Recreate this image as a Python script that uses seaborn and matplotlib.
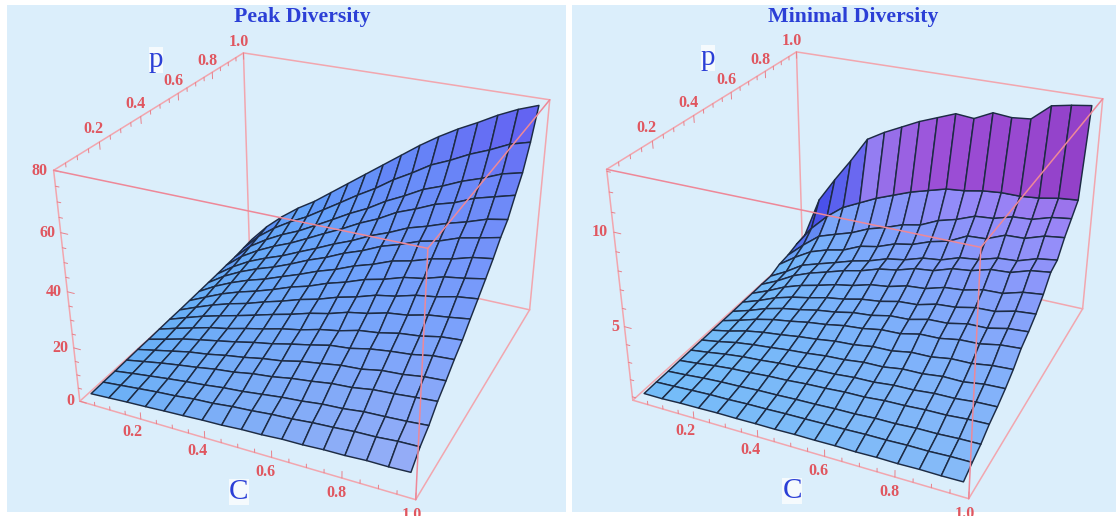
import numpy as np
import matplotlib
matplotlib.use('Agg')
import matplotlib.pyplot as plt
from matplotlib.colors import to_rgb
from matplotlib.patches import Rectangle
from mpl_toolkits.mplot3d import proj3d
import seaborn as sns

# grid of the two surfaces
c_values = [0.01, 0.07, 0.13, 0.19, 0.25, 0.31, 0.37, 0.43, 0.49, 0.55, 0.61, 0.67, 0.73, 0.79, 0.85, 0.91, 0.97]
p_values = [0.04, 0.10, 0.16, 0.22, 0.28, 0.34, 0.40, 0.46, 0.52, 0.58, 0.64, 0.70, 0.76, 0.82, 0.88, 0.94, 1.00]

# one row per p value
peak_diversity = [
    [0.3, 0.7, 1.1, 1.4, 1.8, 2.1, 2.5, 2.7, 3.2, 3.4, 3.9, 4.0, 4.4, 4.5, 4.9, 4.9, 5.2],
    [0.5, 1.2, 1.9, 2.6, 3.1, 3.9, 4.3, 5.1, 5.6, 6.3, 6.7, 7.4, 7.8, 8.4, 8.6, 9.2, 9.4],
    [0.6, 1.6, 2.5, 3.4, 4.2, 4.9, 5.8, 6.4, 7.3, 8.2, 8.8, 9.7, 10.1, 11.0, 11.3, 11.7, 12.3],
    [0.8, 2.1, 3.4, 4.5, 5.5, 6.7, 7.5, 8.8, 9.6, 10.9, 11.8, 12.9, 13.4, 14.6, 15.1, 15.8, 16.4],
    [1.0, 2.5, 4.0, 5.5, 6.5, 7.9, 9.0, 10.4, 11.4, 13.1, 14.2, 15.4, 15.9, 17.3, 17.8, 18.9, 19.4],
    [1.1, 2.9, 4.8, 6.3, 7.7, 9.1, 10.7, 12.0, 13.7, 15.2, 16.9, 17.6, 19.2, 20.2, 20.9, 22.3, 22.8],
    [1.3, 3.4, 5.3, 7.2, 8.6, 10.4, 12.0, 13.8, 15.2, 17.1, 18.4, 20.3, 21.2, 22.8, 23.6, 25.1, 25.7],
    [1.5, 3.9, 6.2, 8.1, 9.9, 11.8, 13.8, 15.6, 17.7, 19.3, 21.5, 22.8, 24.7, 25.6, 27.4, 28.3, 29.4],
    [1.6, 4.4, 7.0, 9.2, 11.0, 13.3, 15.3, 17.6, 19.4, 21.8, 23.6, 25.9, 27.2, 29.2, 30.3, 32.0, 32.9],
    [1.8, 4.9, 7.9, 10.3, 12.3, 14.6, 17.2, 19.2, 21.9, 24.0, 26.6, 28.3, 30.6, 31.8, 34.0, 35.1, 36.5],
    [2.0, 5.8, 8.9, 11.5, 13.6, 16.2, 18.7, 21.5, 23.8, 26.7, 28.9, 31.7, 33.3, 35.6, 37.1, 39.2, 40.3],
    [2.2, 6.5, 9.9, 12.7, 15.0, 17.8, 20.9, 23.5, 26.7, 29.2, 32.4, 34.6, 37.3, 38.9, 41.5, 43.0, 44.6],
    [2.4, 7.0, 10.8, 13.7, 16.2, 19.3, 22.3, 25.5, 28.3, 31.7, 34.4, 37.6, 39.7, 42.2, 44.2, 46.6, 47.9],
    [2.7, 8.0, 12.0, 15.3, 18.1, 21.5, 25.0, 28.3, 32.0, 35.1, 39.0, 41.7, 44.8, 46.8, 49.8, 51.7, 53.6],
    [2.9, 9.0, 13.3, 16.9, 19.9, 23.6, 27.4, 31.3, 34.7, 38.9, 42.3, 46.1, 48.7, 51.8, 54.2, 57.1, 58.8],
    [3.4, 10.0, 15.0, 19.1, 22.6, 26.9, 31.2, 35.6, 39.6, 44.3, 48.2, 52.5, 55.5, 59.0, 61.8, 65.1, 67.0],
    [3.9, 11.0, 16.8, 21.8, 26.0, 31.0, 36.0, 41.0, 46.0, 51.0, 56.0, 60.5, 64.5, 68.0, 71.8, 75.0, 77.5],
]
minimal_diversity = [
    [0.80, 0.80, 0.85, 0.87, 0.90, 0.90, 0.92, 0.92, 0.95, 0.95, 0.97, 0.96, 0.99, 0.98, 1.01, 1.00, 1.02],
    [0.82, 0.87, 0.93, 0.98, 1.00, 1.05, 1.07, 1.11, 1.13, 1.16, 1.18, 1.22, 1.23, 1.27, 1.27, 1.32, 1.33],
    [0.82, 0.90, 1.00, 1.07, 1.11, 1.18, 1.21, 1.26, 1.29, 1.34, 1.36, 1.43, 1.44, 1.51, 1.52, 1.58, 1.60],
    [0.84, 0.96, 1.10, 1.21, 1.27, 1.36, 1.41, 1.50, 1.55, 1.63, 1.65, 1.75, 1.78, 1.85, 1.87, 1.96, 2.00],
    [0.85, 1.00, 1.17, 1.30, 1.38, 1.49, 1.56, 1.67, 1.72, 1.82, 1.85, 1.97, 2.00, 2.11, 2.13, 2.24, 2.28],
    [0.86, 1.04, 1.26, 1.41, 1.52, 1.65, 1.74, 1.87, 1.93, 2.07, 2.09, 2.26, 2.28, 2.42, 2.41, 2.58, 2.63],
    [0.87, 1.09, 1.37, 1.56, 1.69, 1.85, 1.97, 2.13, 2.20, 2.37, 2.40, 2.60, 2.62, 2.80, 2.82, 2.99, 3.06],
    [0.88, 1.17, 1.50, 1.75, 1.92, 2.12, 2.26, 2.46, 2.56, 2.76, 2.80, 3.05, 3.08, 3.28, 3.32, 3.54, 3.62],
    [0.89, 1.21, 1.59, 1.86, 2.05, 2.28, 2.43, 2.66, 2.76, 3.00, 3.05, 3.32, 3.36, 3.60, 3.62, 3.87, 3.96],
    [0.91, 1.27, 1.70, 2.00, 2.22, 2.48, 2.65, 2.90, 3.03, 3.28, 3.35, 3.64, 3.72, 3.96, 4.00, 4.28, 4.38],
    [0.92, 1.34, 1.83, 2.18, 2.44, 2.73, 2.93, 3.23, 3.37, 3.66, 3.75, 4.07, 4.17, 4.44, 4.48, 4.80, 4.93],
    [0.95, 1.43, 2.01, 2.42, 2.73, 3.06, 3.30, 3.65, 3.83, 4.16, 4.28, 4.64, 4.77, 5.08, 5.15, 5.50, 5.65],
    [0.95, 1.50, 2.15, 2.48, 2.80, 3.14, 3.39, 3.75, 3.93, 4.27, 4.40, 4.77, 4.90, 5.22, 5.30, 5.66, 5.82],
    [1.20, 1.90, 2.50, 2.85, 3.08, 3.55, 3.76, 4.16, 4.36, 4.76, 5.02, 5.56, 5.62, 6.06, 6.10, 6.46, 6.60],
    [1.30, 2.20, 3.00, 3.35, 3.68, 4.15, 4.46, 4.85, 5.06, 5.55, 5.84, 6.25, 6.34, 6.65, 6.72, 7.05, 7.20],
    [1.50, 2.80, 3.80, 4.60, 5.10, 5.60, 6.00, 6.40, 6.70, 7.00, 7.10, 7.30, 7.40, 7.40, 7.50, 7.70, 7.80],
    [1.60, 4.20, 5.70, 7.10, 8.60, 9.20, 9.70, 10.20, 10.60, 11.00, 10.90, 11.40, 11.30, 11.40, 12.30, 12.50, 12.65],
]

titles = ['Peak Diversity', 'Minimal Diversity']
major_ticks = [0.2, 0.4, 0.6, 0.8, 1.0]
minor_ticks = [0.05, 0.1, 0.15, 0.25, 0.3, 0.35, 0.45, 0.5, 0.55, 0.65, 0.7, 0.75, 0.85, 0.9, 0.95]
peak_z_major = [0, 20, 40, 60, 80]
peak_z_minor = [5, 10, 15, 25, 30, 35, 45, 50, 55, 65, 70, 75]
min_z_major = [5, 10]
min_z_minor = [1, 2, 3, 4, 6, 7, 8, 9, 11, 12, 13]

W, H = 1116, 516
BOX_COLOR = '#f2a6ae'
TICK_COLOR = '#e8808a'
LABEL_RED = '#e0565f'
BLUE = '#2b3fd6'
BG = '#dbeefb'
SERIF = 'Liberation Serif'

sns.set_style('white')

peak_cmap = sns.blend_palette(['#6ab0f6', '#5aa2fb', '#5c88f8', '#6058f0'], as_cmap=True)
min_cmap = sns.blend_palette(['#74bcf8', '#74b0fa', '#7c9cfa', '#9088f8', '#9a50d8', '#8c3cc4', '#8a35bc'], as_cmap=True)


def draw_panel(fig, left, bottom, title, z_data, zlim, z_major, z_minor, cmap, violet, title_x, p_xy, c_xy):
    size = 543.2
    ax = fig.add_axes([left / W, bottom / H, size / W, size / H], projection='3d')
    ax.set_facecolor('none')
    ax.set_axis_off()
    ax.computed_zorder = False
    ax.set_xlim(0, 1)
    ax.set_ylim(0, 1)
    ax.set_zlim(*zlim)
    ax.view_init(elev=27.79, azim=-65.119, roll=0)
    ax.set_proj_type('persp', focal_length=0.4058)
    ax.set_box_aspect((1.2243, 1.24, 0.8621))
    ax.apply_aspect()
    proj = ax.get_proj()

    z0, z1 = zlim
    dz = z1 - z0

    def label(x, y, z, s, ha='center'):
        px, py, _ = proj3d.proj_transform(x, y, z, proj)
        ax.text2D(px, py, s, transform=ax.transData, color=LABEL_RED, fontsize=11.5, family=SERIF,
                  weight='bold', ha=ha, va='center', zorder=5)

    # back edges go under the surface
    for xs, ys, zs in [([0, 0], [1, 1], [z0, z1]), ([0, 1], [1, 1], [z1, z1]), ([0, 0], [0, 1], [z1, z1]),
                       ([0, 1], [1, 1], [z0, z0]), ([0, 0], [0, 1], [z0, z0]),
                       ([1, 1], [1, 1], [z0, z1]), ([0, 0], [0, 0], [z0, z1]), ([0, 1], [0, 0], [z0, z0]),
                       ([1, 1], [0, 1], [z0, z0])]:
        ax.plot(xs, ys, zs, color=BOX_COLOR, lw=1.1, zorder=1)

    X, Y = np.meshgrid(c_values, p_values)
    Z = np.array(z_data)
    # face colour from the height of the cell, steep cells turn dark blue
    cell = (Z[:-1, :-1] + Z[1:, :-1] + Z[:-1, 1:] + Z[1:, 1:]) / 4
    face = cmap((cell - Z.min()) / (Z.max() - Z.min()))
    steep = (Z[:-1, 1:] - Z[:-1, :-1] + Z[1:, 1:] - Z[1:, :-1]) / 2 / dz / 0.06
    w = np.clip((steep - 0.9) / 1.0, 0, 0.85)[..., None]
    face[..., :3] = face[..., :3] * (1 - w) + np.array(to_rgb('#3c3ce6')) * w
    face[..., 0] = np.clip(face[..., 0] + violet * X[:-1, :-1] * (1 - cell / Z.max()), 0, 1)
    ax.plot_surface(X, Y, Z, facecolors=face, rstride=1, cstride=1, shade=False,
                    edgecolor='#1d2b44', linewidth=1.05, antialiased=True, zorder=2)

    # front edges are drawn across it
    for xs, ys, zs in [([1, 1], [0, 0], [z0, z1]), ([1, 1], [0, 1], [z1, z1]), ([0, 1], [0, 0], [z1, z1])]:
        ax.plot(xs, ys, zs, color='#ee8898', lw=1.1, zorder=3)

    for v, ln in [(v, 0.03) for v in major_ticks] + [(v, 0.016) for v in minor_ticks]:
        ax.plot([v, v], [0, 0], [z0, z0 + ln * dz], color=TICK_COLOR, lw=0.7, zorder=1)
        ax.plot([0, 0], [v, v], [z1, z1 - ln * dz], color=TICK_COLOR, lw=0.7, zorder=1)
    for v, ln in [(v, 0.022) for v in z_major] + [(v, 0.011) for v in z_minor]:
        ax.plot([0, ln], [0, 0], [v, v], color=TICK_COLOR, lw=0.7, zorder=1)

    for v in major_ticks:
        label(v + 0.012, -0.058, z0, f'{v:.1f}')
        label(-0.014, v, z1 + 0.05 * dz, f'{v:.1f}')
    for v in z_major:
        label(-0.018, 0, v - 0.006 * dz, str(v), ha='right')

    fig.text(title_x / W, 1 - 17 / H, title, color=BLUE, fontsize=15.7, family=SERIF, weight='bold',
             ha='center', va='center')
    white = dict(fc='white', ec='none', alpha=0.75, pad=0)
    fig.text(p_xy[0] / W, 1 - p_xy[1] / H, 'p', color=BLUE, fontsize=21, family=SERIF, ha='center', va='center', bbox=white)
    fig.text(c_xy[0] / W, 1 - c_xy[1] / H, 'C', color=BLUE, fontsize=21, family=SERIF, ha='center', va='center', bbox=white)


fig = plt.figure(figsize=(W / 100, H / 100), dpi=100)
fig.patch.set_facecolor('white')
fig.add_artist(Rectangle((7 / W, 1 - 512 / H), 559 / W, 507 / H, transform=fig.transFigure, color=BG, lw=0, zorder=-5))
fig.add_artist(Rectangle((572 / W, 1 - 512 / H), 544 / W, 507 / H, transform=fig.transFigure, color=BG, lw=0, zorder=-5))

draw_panel(fig, 39.74, -10.94, titles[0], peak_diversity, (0, 80), peak_z_major, peak_z_minor, peak_cmap, 0.22,
           302, (156, 60), (239, 492))
draw_panel(fig, 592.74, -9.94, titles[1], minimal_diversity, (0.8, 13.1), min_z_major, min_z_minor, min_cmap, 0.08,
           853, (708, 58), (792, 491))

fig.savefig('out.png', dpi=100, facecolor='white')
